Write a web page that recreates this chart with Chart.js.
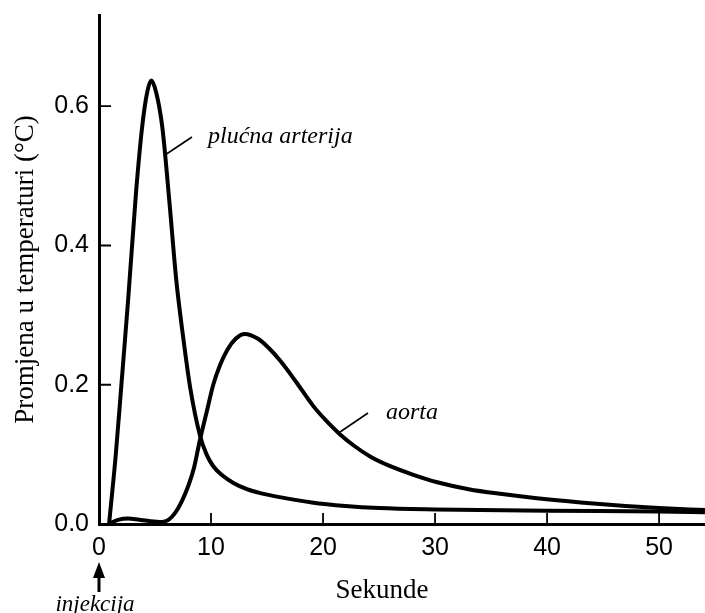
<!DOCTYPE html>
<html>
<head>
<meta charset="utf-8">
<script src="https://cdn.jsdelivr.net/npm/chart.js@4"></script>
<style>
  html, body { margin: 0; padding: 0; background: #fff; }
  #wrap { position: relative; width: 705px; height: 613px; }
</style>
</head>
<body>
<div id="wrap"><canvas id="curves"></canvas></div>
<script>
// seconds / temperature change
const pulmonaryTimes  = [0.9, 1.5, 2.0, 2.6, 3.3, 3.85, 4.3, 4.67, 5.1, 5.65, 6.3, 6.9, 7.5, 8.15, 9.0, 9.6, 10.2, 11, 12, 13.2, 14.5, 16, 19, 22, 25, 30, 40, 50, 54.1]
const pulmonaryValues = [0, 0.1, 0.2, 0.322, 0.475, 0.57, 0.62, 0.637, 0.62, 0.57, 0.46, 0.35, 0.27, 0.195, 0.128, 0.1, 0.083, 0.07, 0.059, 0.05, 0.044, 0.039, 0.031, 0.026, 0.023, 0.021, 0.019, 0.018, 0.017]

const aortaTimes  = [0.85, 1.7, 2.6, 3.6, 4.6, 5.6, 6.2, 6.8, 7.4, 8.0, 8.5, 9.0, 9.6, 10.2, 10.8, 11.45, 12.2, 13.0, 14.2, 15.2, 16.2, 17.6, 19.1, 20.3, 21.5, 22.8, 24.2, 26, 28, 30.2, 33, 36, 39.1, 43, 47, 50, 54.1]
const aortaValues = [0, 0.006, 0.008, 0.006, 0.004, 0.003, 0.006, 0.016, 0.033, 0.056, 0.082, 0.12, 0.16, 0.2, 0.228, 0.25, 0.266, 0.273, 0.266, 0.252, 0.234, 0.204, 0.17, 0.148, 0.129, 0.112, 0.097, 0.083, 0.071, 0.06, 0.05, 0.043, 0.037, 0.031, 0.026, 0.023, 0.02]

const xTicks = [0, 10, 20, 30, 40, 50]
const yTicks = [0, 0.2, 0.4, 0.6]

const toPoints = (ts, vs) => ts.map((t, i) => ({ x: t, y: vs[i] }))

const SERIF = '"Liberation Serif", "Times New Roman", serif'
const SANS = '"Liberation Sans", Arial, sans-serif'

// inward tick marks, leader lines, labels and the injection arrow
const extras = {
    id: 'extras',
    afterDatasetsDraw(chart) {
        const { ctx, scales: { x, y } } = chart
        const x0 = x.getPixelForValue(0)
        const y0 = y.getPixelForValue(0)
        ctx.save()
        ctx.strokeStyle = '#000'
        ctx.fillStyle = '#000'

        ctx.lineWidth = 1.8
        ctx.beginPath()
        xTicks.slice(1).forEach(v => {
            const px = x.getPixelForValue(v)
            ctx.moveTo(px, y0)
            ctx.lineTo(px, y0 - 11)
        })
        yTicks.slice(1).forEach(v => {
            const py = y.getPixelForValue(v)
            ctx.moveTo(x0, py)
            ctx.lineTo(x0 + 12, py)
        })
        ctx.stroke()

        // leader lines
        ctx.lineWidth = 1.6
        ctx.beginPath()
        ctx.moveTo(165, 155); ctx.lineTo(192, 137)
        ctx.moveTo(340, 432); ctx.lineTo(368, 413)
        ctx.stroke()

        ctx.font = 'italic 24px ' + SERIF
        ctx.textBaseline = 'alphabetic'
        ctx.textAlign = 'left'
        ctx.fillText('plućna arterija', 208, 143)
        ctx.fillText('aorta', 386, 419)

        ctx.font = '27px ' + SERIF
        ctx.textAlign = 'center'
        ctx.fillText('Sekunde', 382, 598)

        // injection arrow under x = 0
        ctx.lineWidth = 3
        ctx.beginPath()
        ctx.moveTo(x0, 575); ctx.lineTo(x0, 592)
        ctx.stroke()
        ctx.beginPath()
        ctx.moveTo(x0, 562); ctx.lineTo(x0 - 6, 578); ctx.lineTo(x0 + 6, 578)
        ctx.closePath()
        ctx.fill()

        ctx.font = 'italic 23px ' + SERIF
        ctx.fillText('injekcija', 95, 611)
        ctx.restore()
    }
}

const lineStyle = {
    borderColor: '#000',
    borderWidth: 4,
    pointRadius: 0,
    fill: false,
    cubicInterpolationMode: 'monotone'
}

new Chart(document.getElementById('curves'), {
    type: 'line',
    data: {
        datasets: [
            { label: 'plućna arterija', data: toPoints(pulmonaryTimes, pulmonaryValues), ...lineStyle },
            { label: 'aorta', data: toPoints(aortaTimes, aortaValues), ...lineStyle }
        ]
    },
    options: {
        responsive: true,
        maintainAspectRatio: false,
        animation: false,
        layout: { padding: { top: 15, left: 0, right: 0, bottom: 0 } },
        plugins: { legend: { display: false }, tooltip: { enabled: false } },
        scales: {
            x: {
                type: 'linear',
                min: 0,
                max: 54.1,
                afterBuildTicks: s => { s.ticks = xTicks.map(v => ({ value: v })) },
                afterFit: s => { s.height = 89; s.paddingLeft = 0; s.paddingRight = 0 },
                grid: { display: false, drawTicks: false, tickLength: 0 },
                border: { display: true, color: '#000', width: 3 },
                ticks: {
                    padding: 9,
                    maxRotation: 0,
                    color: '#000',
                    font: { family: SANS, size: 25 }
                }
            },
            y: {
                min: 0,
                max: 0.731,
                afterBuildTicks: s => { s.ticks = yTicks.map(v => ({ value: v })) },
                afterFit: s => { s.width = 99; s.paddingTop = 0; s.paddingBottom = 0 },
                grid: { display: false, drawTicks: false, tickLength: 0 },
                border: { display: true, color: '#000', width: 3 },
                ticks: {
                    padding: 10,
                    color: '#000',
                    font: { family: SANS, size: 25 },
                    callback: v => v.toFixed(1)
                },
                title: {
                    display: true,
                    text: 'Promjena u temperaturi (°C)',
                    color: '#000',
                    font: { family: SERIF, size: 27 },
                    padding: { top: 10, bottom: 0 }
                }
            }
        }
    },
    plugins: [extras]
})
</script>
</body>
</html>
